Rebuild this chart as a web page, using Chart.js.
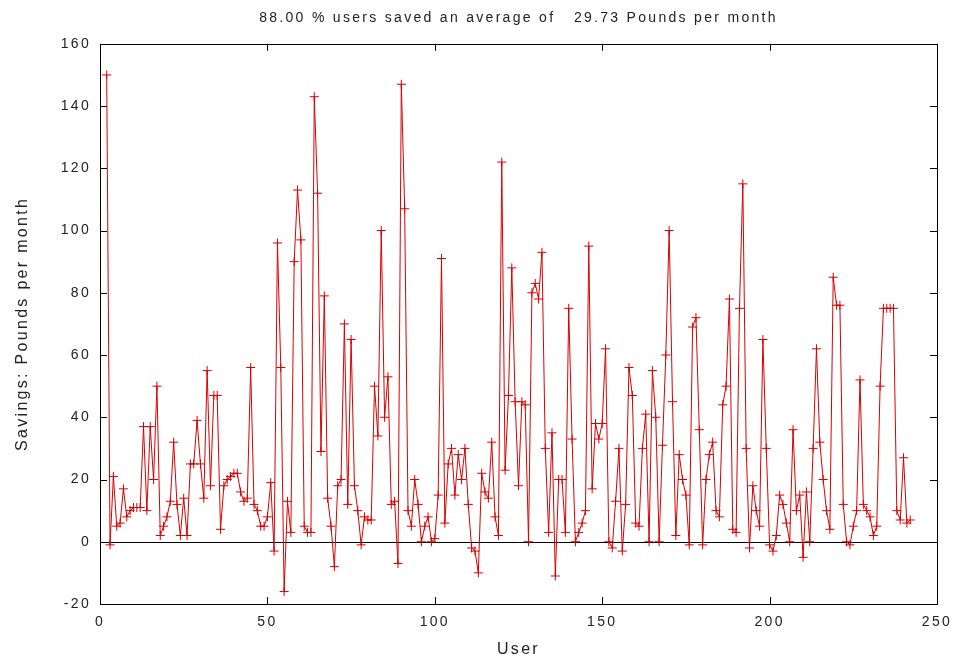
<!DOCTYPE html>
<html>
<head>
<meta charset="utf-8">
<script src="https://cdn.jsdelivr.net/npm/chart.js@4"></script>
<style>
    html, body { margin: 0; padding: 0; background: #fff; }
    #wrap { width: 963px; height: 659px; }
</style>
</head>
<body>
<div id="wrap"><canvas id="chart"></canvas></div>
<script>
// Savings per user; first value belongs to user 2
const firstUser = 2;
const savings = [
    150, -1, 21, 5, 6, 17, 8, 10, 11, 11,
    11, 37, 10, 37, 20, 50, 2, 5, 8, 13,
    32, 12, 2, 14, 2, 25, 25, 39, 25, 14,
    55, 18, 47, 47, 4, 18, 20, 21, 22, 22,
    16, 13, 14, 56, 12, 10, 5, 5, 8, 19,
    -3, 96, 56, -16, 13, 3, 90, 113, 97, 5,
    3, 3, 143, 112, 29, 79, 14, 5, -8, 18,
    20, 70, 12, 65, 18, 10, -1, 8, 7, 7,
    50, 34, 100, 40, 53, 12, 13, -7, 147, 107,
    10, 5, 20, 12, 0, 5, 8, 0, 1, 15,
    91, 6, 25, 30, 15, 28, 20, 30, 12, -2,
    -3, -10, 22, 16, 14, 32, 8, 2, 122, 23,
    47, 88, 45, 18, 45, 44, 0, 80, 83, 78,
    93, 30, 3, 35, -11, 20, 20, 3, 75, 33,
    0, 3, 6, 10, 95, 17, 38, 33, 38, 62,
    0, -2, 13, 30, -3, 12, 56, 47, 6, 5,
    30, 41, 0, 55, 40, 0, 31, 60, 100, 45,
    2, 28, 20, 15, -1, 69, 72, 36, -1, 20,
    28, 32, 10, 8, 44, 50, 78, 4, 3, 75,
    115, 30, -2, 18, 10, 5, 65, 30, -1, -3,
    2, 15, 12, 6, 0, 36, 10, 15, -5, 16,
    0, 30, 62, 32, 20, 10, 4, 85, 76, 76,
    12, 0, -1, 5, 10, 52, 12, 10, 8, 2,
    5, 50, 75, 75, 75, 75, 10, 7, 27, 6,
    7,
];
const xTicks = [0, 50, 100, 150, 200, 250];
const yTicks = [-20, 0, 20, 40, 60, 80, 100, 120, 140, 160];
const titleText = '88.00 % users saved an average of   29.73 Pounds per month';

const points = savings.map((v, i) => ({x: firstUser + i, y: v}));
const fontFamily = '"Liberation Sans", Arial, sans-serif';

// gnuplot-style box: frame, inward ticks on all sides, zero axis
const pluginFrame = {
    id: 'frame',
    beforeDraw: function(chart) {
        // the original's text is widely spaced
        chart.ctx.letterSpacing = '2.3px';
    },
    beforeDatasetsDraw: function(chart) {
        const {ctx, chartArea: a, scales: {y}} = chart;
        const y0 = y.getPixelForValue(0);
        ctx.save();
        ctx.strokeStyle = '#000';
        ctx.lineWidth = 1;
        ctx.beginPath();
        ctx.moveTo(a.left, Math.round(y0) + 0.5);
        ctx.lineTo(a.right, Math.round(y0) + 0.5);
        ctx.stroke();
        ctx.restore();
    },
    afterDatasetsDraw: function(chart) {
        const {ctx, chartArea: a, scales: {x, y}} = chart;
        const len = 7;
        ctx.save();
        ctx.strokeStyle = '#000';
        ctx.lineWidth = 1;
        ctx.strokeRect(Math.round(a.left) + 0.5, Math.round(a.top) + 0.5,
            Math.round(a.right - a.left), Math.round(a.bottom - a.top));
        ctx.beginPath();
        for (const t of xTicks) {
            const px = Math.round(x.getPixelForValue(t)) + 0.5;
            ctx.moveTo(px, a.bottom);
            ctx.lineTo(px, a.bottom - len);
            ctx.moveTo(px, a.top);
            ctx.lineTo(px, a.top + len);
        }
        for (const t of yTicks) {
            const py = Math.round(y.getPixelForValue(t)) + 0.5;
            ctx.moveTo(a.left, py);
            ctx.lineTo(a.left + len, py);
            ctx.moveTo(a.right, py);
            ctx.lineTo(a.right - len, py);
        }
        ctx.stroke();
        ctx.restore();
    },
};

new Chart(document.getElementById('chart'), {
    type: 'line',
    data: {
        datasets: [{
            data: points,
            borderColor: '#d80000',
            borderWidth: 1,
            pointStyle: 'cross',
            pointRadius: 4.5,
            pointBorderColor: '#d80000',
            pointBorderWidth: 1,
            tension: 0,
            fill: false,
        }],
    },
    options: {
        responsive: true,
        maintainAspectRatio: false,
        animation: false,
        layout: {padding: {top: 0, right: 26, bottom: 0, left: 0}},
        scales: {
            x: {
                type: 'linear',
                min: 0,
                max: 250,
                afterBuildTicks: function(scale) {
                    scale.ticks = xTicks.map(v => ({value: v}));
                },
                afterFit: function(scale) {
                    scale.height = 55;
                },
                grid: {display: false, drawTicks: false},
                border: {display: false},
                ticks: {
                    color: '#222',
                    padding: 10,
                    maxRotation: 0,
                    font: {family: fontFamily, size: 14},
                },
                title: {
                    display: true,
                    text: 'User',
                    color: '#222',
                    padding: {top: 6, bottom: 0},
                    font: {family: fontFamily, size: 16},
                },
            },
            y: {
                type: 'linear',
                min: -20,
                max: 160,
                afterBuildTicks: function(scale) {
                    scale.ticks = yTicks.map(v => ({value: v}));
                },
                afterFit: function(scale) {
                    scale.width = 100;
                },
                grid: {display: false, drawTicks: false},
                border: {display: false},
                ticks: {
                    color: '#222',
                    padding: 9,
                    font: {family: fontFamily, size: 14},
                },
                title: {
                    display: true,
                    text: 'Savings: Pounds per month',
                    color: '#222',
                    padding: {top: 13, bottom: 0},
                    font: {family: fontFamily, size: 16},
                },
            },
        },
        plugins: {
            legend: {display: false},
            tooltip: {enabled: false},
            title: {
                display: true,
                text: titleText,
                fullSize: false,
                color: '#222',
                font: {family: fontFamily, size: 14, weight: 'normal'},
                padding: {top: 10, bottom: 17},
            },
        },
    },
    plugins: [pluginFrame],
});
</script>
</body>
</html>
